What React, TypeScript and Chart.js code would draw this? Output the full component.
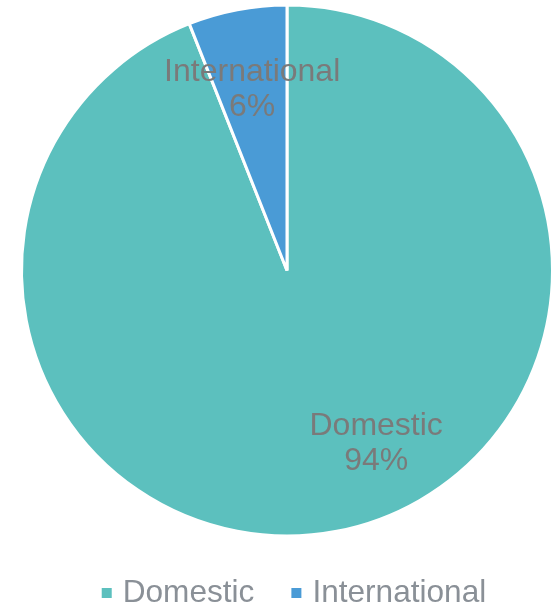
import React, { useEffect, useRef } from "react";
import { Chart, registerables } from "chart.js";

Chart.register(...registerables);

const categories = ["Domestic", "International"];
const shares = [94, 6];
const sliceColors = ["#5CC0BE", "#4A9BD6"];

const FONT = "'Liberation Sans', Arial, sans-serif";

const sliceLabels = {
  id: "sliceLabels",
  afterDatasetsDraw(chart: any) {
    const ctx = chart.ctx;
    const meta = chart.getDatasetMeta(0);
    const total = shares.reduce((a, b) => a + b, 0);
    ctx.save();
    ctx.font = `32px ${FONT}`;
    ctx.fillStyle = "#7A7A7A";
    ctx.textAlign = "center";
    ctx.textBaseline = "middle";
    meta.data.forEach((arc: any, i: number) => {
      const p = arc.getProps(["x", "y", "startAngle", "endAngle", "outerRadius"], true);
      let angle = (p.startAngle + p.endAngle) / 2;
      let frac = 0.7;
      if (i === 0) {
        angle = (62.6 * Math.PI) / 180;
        frac = 0.73;
      }
      const cx = p.x + Math.cos(angle) * p.outerRadius * frac;
      const cy = p.y + Math.sin(angle) * p.outerRadius * frac;
      const pct = Math.round((shares[i] / total) * 100) + "%";
      ctx.fillText(categories[i], cx, cy - 16);
      ctx.fillText(pct, cx, cy + 19);
    });
    ctx.restore();
  },
};

const bottomLegend = {
  id: "bottomLegend",
  afterDraw(chart: any) {
    const ctx = chart.ctx;
    const labels: string[] = chart.data.labels;
    const colors: string[] = chart.data.datasets[0].backgroundColor;
    const box = 10;
    const boxGap = 11;
    const itemGap = 37;
    ctx.save();
    ctx.font = `31.6px ${FONT}`;
    ctx.textBaseline = "middle";
    ctx.textAlign = "left";
    const widths = labels.map((l) => ctx.measureText(l).width);
    const total =
      widths.reduce((a, w) => a + box + boxGap + w, 0) + itemGap * (labels.length - 1);
    let x = chart.width / 2 + 7 - total / 2;
    const y = chart.chartArea.bottom + 52;
    labels.forEach((l, i) => {
      ctx.fillStyle = colors[i];
      ctx.fillRect(x, y - box / 2, box, box);
      ctx.fillStyle = "#8A9097";
      ctx.fillText(l, x + box + boxGap, y);
      x += box + boxGap + widths[i] + itemGap;
    });
    ctx.restore();
  },
};

export default function App() {
  const ref = useRef<HTMLCanvasElement>(null);
  useEffect(() => {
    if (!ref.current) return;
    const chart = new Chart(ref.current, {
      type: "pie",
      data: {
        labels: categories,
        datasets: [
          {
            data: shares,
            backgroundColor: sliceColors,
            borderColor: "#FFFFFF",
            borderWidth: 3,
          },
        ],
      },
      options: {
        responsive: false,
        animation: false,
        layout: { padding: { top: 0, left: 20, right: 20, bottom: 67 } },
        plugins: {
          tooltip: { enabled: false },
          legend: { display: false },
        },
      },
      plugins: [sliceLabels, bottomLegend],
    });
    return () => chart.destroy();
  }, []);
  return (
    <div
      style={{
        position: "fixed",
        left: 0,
        top: 0,
        width: 551,
        height: 608,
        overflow: "hidden",
        background: "#fff",
      }}
    >
      <canvas ref={ref} width={574} height={608} style={{ display: "block" }} />
    </div>
  );
}
